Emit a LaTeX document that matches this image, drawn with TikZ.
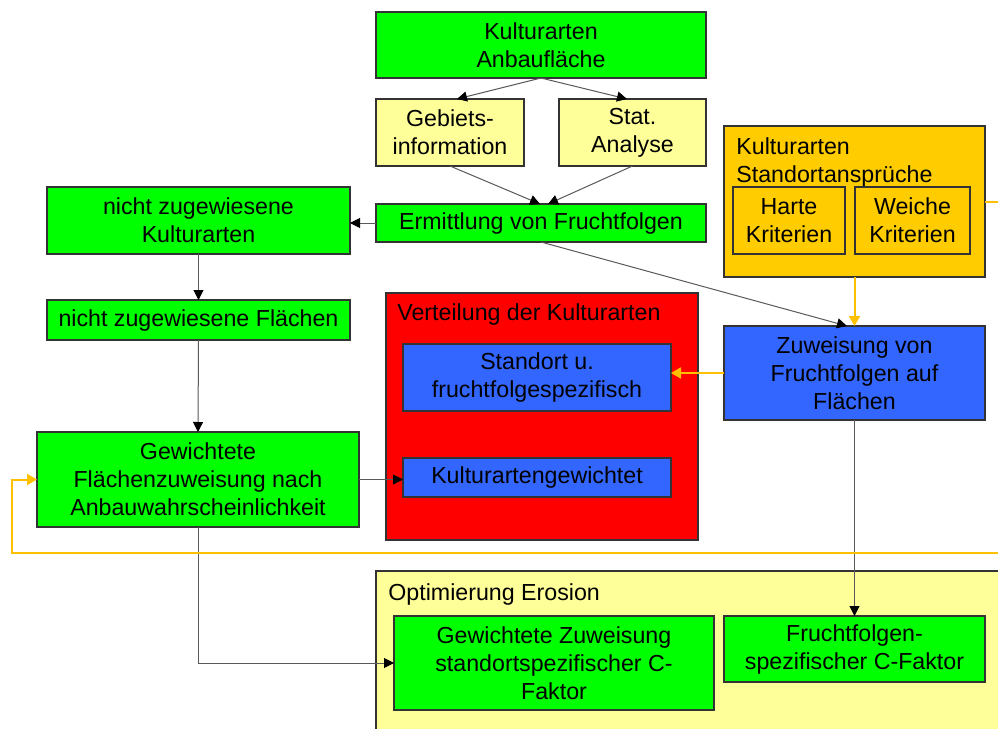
\documentclass[tikz,border=0pt]{standalone}
\usepackage{fontspec}
\setmainfont{Liberation Sans}
\usetikzlibrary{arrows.meta}
\definecolor{grn}{HTML}{00FF00}
\definecolor{pale}{HTML}{FFFF99}
\definecolor{ora}{HTML}{FFCC00}
\definecolor{orl}{HTML}{FFC000}
\definecolor{blu}{HTML}{3366FF}
\definecolor{rd}{HTML}{FF0000}
\definecolor{bord}{HTML}{333333}
\newcommand{\bx}[7]{\node[#6, minimum width={(#4-#2)*0.5pt}, minimum height={(#5-#3)*0.5pt}] (#1) at ({(#2+#4)/2},{(#3+#5)/2}) {#7};}
\tikzset{
  box/.style={draw=bord, line width=0.6pt, inner sep=0pt, outer sep=0pt, align=center,
    font=\fontsize{11.6}{14}\selectfont},
  gbox/.style={box, fill=grn},
  ybox/.style={box, fill=pale},
  obox/.style={box, fill=ora},
  bbox/.style={box, fill=blu},
  rbox/.style={box, fill=rd},
  lbl/.style={anchor=north west, inner sep=0pt, align=left, font=\fontsize{11.6}{14}\selectfont},
  arr/.style={draw=black!65, line width=0.5pt, -{Triangle[length=5pt,width=5pt,fill=black,color=black]}},
  oarr/.style={draw=orl, line width=1pt, -{Triangle[length=5pt,width=5.5pt]}},
}
\begin{document}
\begin{tikzpicture}[x=0.5pt,y=-0.5pt]
\useasboundingbox (0,0) rectangle (998,729);
\clip (0,0) rectangle (998,729);
\fill[white] (0,0) rectangle (998,729);
% group boxes
\bx{ora}{724}{126}{985}{277}{obox}{}
\node[lbl] (oralbl) at (736,137) {Kulturarten\\Standortansprüche};
\bx{red}{386}{293}{698}{540}{rbox}{}
\node[lbl] (redlbl) at (397,303) {Verteilung der Kulturarten};
\filldraw[fill=pale, draw=bord, line width=0.6pt] (376,571) rectangle (1010,745);
\coordinate (optc) at (376,571);
\node[lbl] (optlbl) at (388,583) {Optimierung Erosion};
% boxes
\bx{top}{376}{12}{706}{78}{gbox}{Kulturarten\\Anbaufläche}
\bx{geb}{376}{99}{524}{166}{ybox}{Gebiets-\\information}
\bx{stat}{559}{99}{706}{166}{ybox}{Stat.\\Analyse}
\bx{erm}{376}{204}{706}{242}{gbox}{Ermittlung von Fruchtfolgen}
\bx{nzk}{47}{187}{350}{254}{gbox}{nicht zugewiesene\\Kulturarten}
\bx{nzf}{47}{300}{350}{340}{gbox}{nicht zugewiesene Flächen}
\bx{gf}{37}{432}{359}{527}{gbox}{Gewichtete\\Flächenzuweisung nach\\Anbauwahrscheinlichkeit}
\bx{harte}{733}{187}{845}{254}{obox}{Harte\\Kriterien}
\bx{weiche}{855}{187}{970}{254}{obox}{Weiche\\Kriterien}
\bx{zuw}{724}{326}{985}{420}{bbox}{Zuweisung von\\Fruchtfolgen auf\\Flächen}
\bx{std}{403}{344}{671}{411}{bbox}{Standort u.\\fruchtfolgespezifisch}
\bx{kag}{403}{458}{671}{497}{bbox}{Kulturartengewichtet}
\bx{gz}{394}{616}{714}{710}{gbox}{Gewichtete Zuweisung\\standortspezifischer C-\\Faktor}
\bx{ffs}{724}{616}{985}{682}{gbox}{Fruchtfolgen-\\spezifischer C-Faktor}
% connectors
\draw[arr] (top.south) -- ([xshift=3.5pt]geb.north);
\draw[arr] (top.south) -- ([xshift=-2.75pt]stat.north);
\draw[arr] (geb.south) -- ([xshift=-0.5pt]erm.north);
\draw[arr] (stat.south) -- ([xshift=3.5pt]erm.north);
\draw[arr] (erm.west) -- (erm.west -| nzk.east);
\draw[arr] (nzk.south) -- (nzf.north);
\draw[arr] (nzf.south) -- (gf.north);
\draw[arr] (erm.south) -- ([xshift=-3.75pt]zuw.north);
\draw[oarr] (ora.south) -- (zuw.north);
\draw[oarr] (zuw.west) -- (zuw.west -| std.east);
\draw[arr] (gf.east) -- (gf.east -| kag.west);
\draw[arr] (zuw.south) -- (ffs.north);
\draw[arr] (gf.south) |- (gz.west);
\draw[oarr] (ora.east) -- (1015,201.5) -- (1015,553) -- (12,553) |- (gf.west);
\end{tikzpicture}
\end{document}
